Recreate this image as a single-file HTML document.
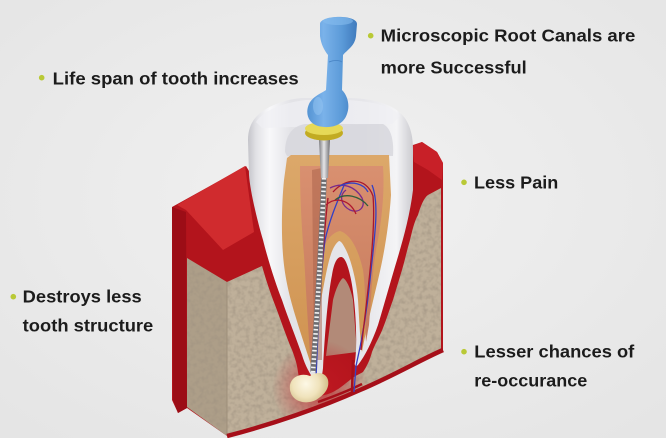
<!DOCTYPE html>
<html><head><meta charset="utf-8"><style>
html,body{margin:0;padding:0;background:#ebebeb;}
svg{display:block;}
text{font-family:"Liberation Sans",Arial,sans-serif;font-weight:bold;font-size:17.5px;fill:#1c1c1c;}
</style></head><body>
<svg width="666" height="438" viewBox="0 0 666 438" xmlns="http://www.w3.org/2000/svg">
<defs>
<radialGradient id="bg" cx="50%" cy="45%" r="70%"><stop offset="0" stop-color="#f1f1f1"/><stop offset="1" stop-color="#e5e5e5"/></radialGradient>
<linearGradient id="crown" x1="248" y1="0" x2="413" y2="0" gradientUnits="userSpaceOnUse">
<stop offset="0" stop-color="#c4c4ca"/><stop offset="0.05" stop-color="#e2e2e6"/><stop offset="0.13" stop-color="#f8f8fa"/><stop offset="0.26" stop-color="#e3e3e7"/><stop offset="0.7" stop-color="#e6e6ea"/><stop offset="0.9" stop-color="#f4f4f6"/><stop offset="1" stop-color="#cbcbd0"/></linearGradient>
<linearGradient id="orange" x1="0" y1="155" x2="0" y2="370" gradientUnits="userSpaceOnUse"><stop offset="0" stop-color="#dca86a"/><stop offset="1" stop-color="#cf9250"/></linearGradient>
<linearGradient id="pulp" x1="0" y1="166" x2="0" y2="360" gradientUnits="userSpaceOnUse"><stop offset="0" stop-color="#d99070"/><stop offset="1" stop-color="#c4785a"/></linearGradient>
<linearGradient id="shaft" x1="319" y1="0" x2="330" y2="0" gradientUnits="userSpaceOnUse"><stop offset="0" stop-color="#7c7c80"/><stop offset="0.45" stop-color="#e6e6e8"/><stop offset="1" stop-color="#6e6e72"/></linearGradient>
<linearGradient id="blue" x1="305" y1="0" x2="358" y2="0" gradientUnits="userSpaceOnUse"><stop offset="0" stop-color="#4f8fd0"/><stop offset="0.35" stop-color="#7ab2ea"/><stop offset="0.7" stop-color="#5b9ad8"/><stop offset="1" stop-color="#3d78bb"/></linearGradient>
<radialGradient id="glow" cx="320" cy="388" r="48" gradientUnits="userSpaceOnUse"><stop offset="0" stop-color="#c21a24" stop-opacity="0.75"/><stop offset="0.6" stop-color="#c21a24" stop-opacity="0.3"/><stop offset="1" stop-color="#c21a24" stop-opacity="0"/></radialGradient>
<radialGradient id="bulb" cx="306" cy="384" r="22" gradientUnits="userSpaceOnUse"><stop offset="0" stop-color="#fdf8e6"/><stop offset="0.6" stop-color="#f0e3bc"/><stop offset="1" stop-color="#d4c08c"/></radialGradient>
<clipPath id="blockclip"><path d="M172,207 L246,166 L252,176 L408,150 L413,145 L422,142 L437,152 L443,163 L443,352 C420,360 395,375 360,390 C320,408 270,425 227,436 L187,408 L178,413 L172,400 Z"/></clipPath>
<filter id="tex" x="0" y="0" width="100%" height="100%">
<feTurbulence type="fractalNoise" baseFrequency="0.22" numOctaves="2" seed="7" result="n"/>
<feColorMatrix in="n" type="matrix" values="0 0 0 0 0.35  0 0 0 0 0.29  0 0 0 0 0.22  0 0 0 1.4 -0.55" result="d"/>
<feComposite in="d" in2="SourceGraphic" operator="in"/>
</filter>
</defs>
<rect width="666" height="438" fill="url(#bg)"/>

<!-- red base (gums) -->
<path d="M172,207 L246,166 L252,176 L408,150 L413,145 L422,142 L437,152 L443,163 L443,352 C420,360 395,375 360,390 C320,408 270,425 227,436 L187,408 L178,413 L172,400 Z" fill="#b3141c"/>
<!-- left top face -->
<path d="M177,205 L245,166 L254,232 L223,250 L186,210 Z" fill="#d02b2e"/>
<!-- left side strip -->
<path d="M172,207 L186,212 L187,408 L178,413 L173,400 Z" fill="#9c0d16"/>
<!-- right top -->
<path d="M412,146 L422,142 L437,152 L443,163 L442,180 L428,170 L414,162 Z" fill="#c82028"/>

<!-- bone -->
<g>
<path d="M187,258 L227,282 L227,436 L187,407 Z" fill="#ad9e88"/>
<path d="M227,282 L262,266 C266,280 270,292 275,305 C280,318 286,336 292,350 C295,358 297,364 298,372 C300,388 305,396 318,396 C332,395 340,388 350,380 C356,375 360,374 363,372 C367,366 370,360 372,352 C376,342 380,336 383,328 C387,318 390,308 393,300 C396,290 399,280 402,270 C405,260 407,250 410,240 C412,232 414,222 418,215 C421,205 424,198 428,195 L441,188 L441,352 C420,360 395,375 360,390 C320,408 270,425 227,436 Z" fill="#bfb09a"/>
<path d="M333,300 C336,288 340,280 343,278 C347,280 351,290 353,300 L357,352 L326,356 Z" fill="#b28a78"/>
</g>
<g filter="url(#tex)">
<path d="M187,258 L227,282 L227,436 L187,407 Z" fill="#000"/>
<path d="M227,282 L262,266 C266,280 270,292 275,305 C280,318 286,336 292,350 C295,358 297,364 298,372 C300,388 305,396 318,396 C332,395 340,388 350,380 C356,375 360,374 363,372 C367,366 370,360 372,352 C376,342 380,336 383,328 C387,318 390,308 393,300 C396,290 399,280 402,270 C405,260 407,250 410,240 C412,232 414,222 418,215 C421,205 424,198 428,195 L441,188 L441,352 C420,360 395,375 360,390 C320,408 270,425 227,436 Z" fill="#000"/>
</g>
<line x1="227" y1="282" x2="227" y2="436" stroke="#9e8f7a" stroke-width="1"/>

<!-- glow (clipped to block) -->
<g clip-path="url(#blockclip)"><circle cx="320" cy="385" r="48" fill="url(#glow)"/></g>
<!-- vessels bottom -->
<path d="M227,436 C270,425 320,408 360,390 C395,375 420,360 443,350" fill="none" stroke="#a60f19" stroke-width="4.5"/>
<path d="M318,402 C335,396 350,390 362,384" fill="none" stroke="#a60f19" stroke-width="2.5"/>
<path d="M353,360 L352,392" fill="none" stroke="#a60f19" stroke-width="2.5"/>

<!-- tooth -->
<path d="M248,140 C248,126 254,116 266,109 C278,102 292,98 306,98 L346,98 C372,98 394,104 404,117 C411,126 413,138 413,150 L413,190 C410,215 403,240 397,260 C391,280 384,305 378,325 C372,342 365,356 358,365 C356,367 354,366 355,362 C358,340 355,295 350,275 C347,262 344,257 341,257 C337,257 334,263 332,275 C328,295 325,330 323,368 C322,378 320,383 316,382 C310,375 305,365 302,355 C295,335 288,318 282,300 C276,285 268,260 263,240 C257,220 250,190 249,175 Z" fill="url(#crown)"/>
<path d="M256,122 C262,112 280,103 306,100 L346,100 C372,101 392,106 400,116 L392,124 L262,128 Z" fill="#f0f0f3" opacity="0.7"/>
<path d="M285,152 C285,136 292,126 305,124 L383,124 C391,128 394,140 393,156 L287,156 Z" fill="#d6d6dc" opacity="0.8"/>
<!-- dentin -->
<path d="M287,158 L291,155 L389,155 L391,195 C389,225 384,255 378,280 C372,305 366,330 362,352 C360,340 359,315 358,300 C357,285 352,262 346,250 C343,244 341,241 339,241 C336,243 333,248 331,254 C327,266 324,285 321,300 C319,320 318,345 317,370 C315,372 313,372 312,368 C308,355 302,338 296,318 C290,298 285,280 283,255 C281,230 282,200 284,180 Z" fill="url(#orange)"/>
<!-- pulp -->
<path d="M300,166 L383,166 C385,195 381,225 376,250 C372,275 371,300 369,325 L366,342 C365,320 366,290 363,270 C358,248 350,234 340,231 C330,233 322,245 319,265 C317,300 316,340 315,366 L311,366 C308,330 306,290 304,255 C301,220 300,190 300,166 Z" fill="url(#pulp)"/>
<path d="M312,170 L322,168 L322,360 L314,360 Z" fill="#a8604a" opacity="0.5"/>

<!-- vessels in pulp -->
<g fill="none" stroke-width="1.3">
<path d="M345,183 C338,200 330,218 325,240 C320,280 318,330 316,378" stroke="#3340c4"/>
<path d="M372,185 C380,205 374,240 370,280 C367,310 362,340 356,366 L354,392" stroke="#3340c4"/>
<path d="M333,192 C345,178 366,176 373,196 C376,230 368,290 361,350" stroke="#a8162e"/>
<path d="M328,198 C324,230 320,290 315,370" stroke="#a8162e"/>
<path d="M330,188 C342,182 355,186 362,198 C366,206 360,214 350,210 C342,206 338,196 346,190" stroke="#7a2a8a"/>
<path d="M335,200 C345,192 360,196 368,206" stroke="#2e5e3a"/>
<path d="M340,186 C352,180 364,184 368,192" stroke="#3340c4"/>
<path d="M326,205 C336,196 350,200 356,214" stroke="#b0182e"/>
</g>

<!-- shaft -->
<path d="M319,140 L330,140 L329,160 L328,178 L321,178 L320,160 Z" fill="url(#shaft)"/>
<path d="M324,178 C322,230 318,300 313,372" fill="none" stroke="#6e6e72" stroke-width="5.5"/>
<path d="M324,178 C322,230 318,300 313,372" fill="none" stroke="#f2f2f2" stroke-width="4.5" stroke-dasharray="1.6 2.6"/>

<!-- bulb (cyst) -->
<path d="M290,390 C288,378 300,372 310,376 C316,371 326,372 328,380 C330,390 322,396 316,400 C306,405 292,402 290,390 Z" fill="url(#bulb)"/>

<!-- disk -->
<ellipse cx="324" cy="133" rx="19" ry="7.5" fill="#c2ab22"/>
<ellipse cx="324" cy="128.5" rx="19" ry="6.5" fill="#e6d957"/>
<!-- handle -->
<path d="M320,24 C320,15 357,14 357,24 L356,36 C355,46 347,50 343,55 L342,90 C348,96 350,106 347,114 C343,126 330,129 318,126 C308,123 305,113 309,104 C313,96 322,93 326,90 L328,55 C324,50 321,44 320,36 Z" fill="url(#blue)"/>
<ellipse cx="338" cy="21" rx="15" ry="4" fill="#86bcee" opacity="0.6"/>
<ellipse cx="318" cy="106" rx="5" ry="9" fill="#9ccaf4" opacity="0.45"/>
<path d="M329,62 C334,60 339,60 342,62" fill="none" stroke="#4a86c6" stroke-width="1"/>

<!-- labels -->
<g fill="#b9c936">
<circle cx="41.7" cy="77.7" r="2.8"/>
<circle cx="370.7" cy="35.7" r="2.8"/>
<circle cx="464" cy="182.3" r="2.8"/>
<circle cx="13.3" cy="296.7" r="2.8"/>
<circle cx="464" cy="351.7" r="2.8"/>
</g>
<text x="52.7" y="84.3" textLength="246" lengthAdjust="spacingAndGlyphs">Life span of tooth increases</text>
<text x="380.7" y="41.7" textLength="254.6" lengthAdjust="spacingAndGlyphs">Microscopic Root Canals are</text>
<text x="380.7" y="73.3" textLength="146" lengthAdjust="spacingAndGlyphs">more Successful</text>
<text x="474" y="188.3" textLength="84.3" lengthAdjust="spacingAndGlyphs">Less Pain</text>
<text x="22.7" y="302.3" textLength="119" lengthAdjust="spacingAndGlyphs">Destroys less</text>
<text x="22.7" y="331.7" textLength="130.6" lengthAdjust="spacingAndGlyphs">tooth structure</text>
<text x="474.3" y="357.3" textLength="160" lengthAdjust="spacingAndGlyphs">Lesser chances of</text>
<text x="474.3" y="386.7" textLength="113" lengthAdjust="spacingAndGlyphs">re-occurance</text>
</svg>
</body></html>
